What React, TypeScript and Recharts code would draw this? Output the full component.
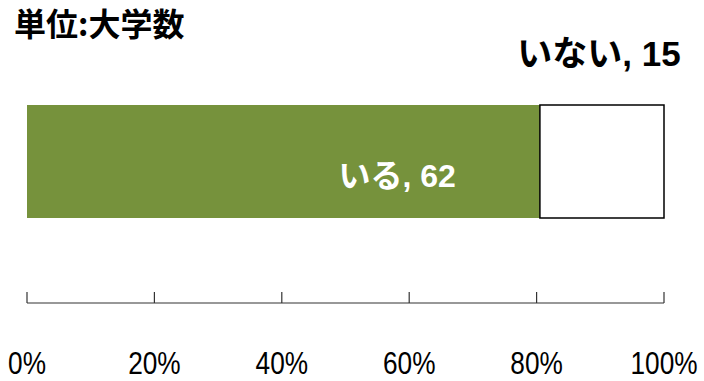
import React from "react";
import { BarChart, Bar, XAxis, YAxis, LabelList } from "recharts";

const categories = ["大学"];
const seriesNames = ["いる", "いない"];
const iruValues = [62];
const inaiValues = [15];
const tickValues = [0, 0.2, 0.4, 0.6, 0.8, 1];
const tickLabels = ["0%", "20%", "40%", "60%", "80%", "100%"];
const titleText = "単位:大学数";

const data = categories.map((c, i) => ({ name: c, iru: iruValues[i], inai: inaiValues[i] }));

const JP = "'Liberation Sans', 'Noto Sans CJK JP', sans-serif";
const NARROW = "'Liberation Sans Narrow', 'Liberation Sans', sans-serif";

const Tick = (props: any) => {
  const { x, y, payload } = props;
  const idx = tickValues.indexOf(payload.value);
  const label = idx >= 0 ? tickLabels[idx] : String(payload.value);
  return (
    <g>
      <line x1={x} x2={x} y1={y - 11} y2={y} stroke="#333" strokeWidth={1.2} />
      <text
        transform={`translate(${x}, ${y + 71}) scale(0.82, 1)`}
        x={0}
        y={0}
        textAnchor="middle"
        fontFamily={NARROW}
        fontSize={32}
        fill="#000"
      >
        {label}
      </text>
    </g>
  );
};

const IruLabel = (props: any) => {
  const { x, y, width, index } = props;
  return (
    <text x={x + width - 84} y={y + 82} textAnchor="end" fontFamily={JP} fontWeight="bold" fontSize={32} fill="#fff">
      {`${seriesNames[0]}, ${iruValues[index]}`}
    </text>
  );
};

const InaiLabel = (props: any) => {
  const { x, y, width, index } = props;
  return (
    <text x={x + width / 2 - 3} y={y - 39} textAnchor="middle" fontFamily={JP} fontWeight="bold" fontSize={35} fill="#000">
      {`${seriesNames[1]}, ${inaiValues[index]}`}
    </text>
  );
};

export default function App() {
  return (
    <div style={{ position: "absolute", left: 0, top: 0, width: 704, height: 381, background: "#fff" }}>
      <BarChart
        width={704}
        height={381}
        data={data}
        layout="vertical"
        stackOffset="expand"
        margin={{ top: 20, right: 40, bottom: 0, left: 27 }}
      >
        <XAxis
          type="number"
          domain={[0, 1]}
          ticks={tickValues}
          height={78}
          tickSize={0}
          tickMargin={0}
          tickLine={false}
          axisLine={{ stroke: "#333", strokeWidth: 1.2 }}
          tick={<Tick />}
          interval={0}
        />
        <YAxis type="category" dataKey="name" hide />
        <Bar dataKey="iru" stackId="a" fill="#76923C" barSize={113} isAnimationActive={false}>
          <LabelList dataKey="iru" content={<IruLabel />} />
        </Bar>
        <Bar dataKey="inai" stackId="a" fill="#ffffff" stroke="#000" strokeWidth={1.5} barSize={113} isAnimationActive={false}>
          <LabelList dataKey="inai" content={<InaiLabel />} />
        </Bar>
      </BarChart>
      <svg width={704} height={60} style={{ position: "absolute", left: 0, top: 0 }}>
        <text x={14} y={36} fontFamily="'Noto Sans CJK JP', sans-serif" fontWeight="bold" fontSize={32} fill="#000">
          {titleText}
        </text>
      </svg>
    </div>
  );
}
